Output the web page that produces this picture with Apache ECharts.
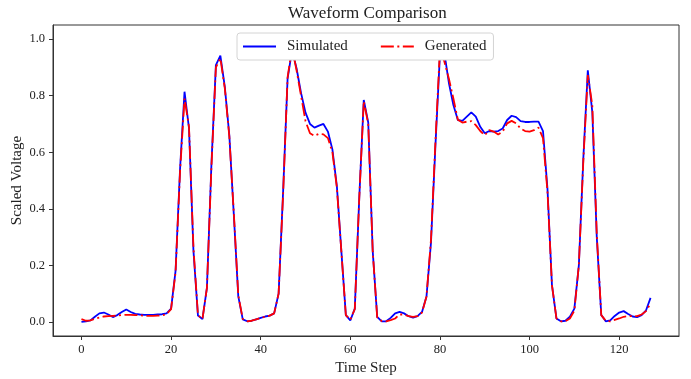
<!DOCTYPE html>
<html>
<head>
<meta charset="utf-8">
<script src="https://cdn.jsdelivr.net/npm/echarts@6/dist/echarts.min.js"></script>
<style>
  html, body { margin: 0; padding: 0; background: #fff; }
  #chart { width: 691px; height: 379px; }
</style>
</head>
<body>
<div id="chart"></div>
<script>
// values
const simulated = [
  0.000, 0.002, 0.005, 0.018, 0.030, 0.033, 0.026, 0.017, 0.024, 0.035,
  0.044, 0.035, 0.028, 0.026, 0.025, 0.025, 0.025, 0.026, 0.027, 0.030,
  0.047, 0.180, 0.540, 0.814, 0.684, 0.250, 0.022, 0.010, 0.120, 0.555,
  0.908, 0.942, 0.830, 0.660, 0.380, 0.090, 0.009, 0.002, 0.004, 0.009,
  0.014, 0.019, 0.022, 0.030, 0.100, 0.460, 0.860, 0.960, 0.897, 0.810,
  0.740, 0.700, 0.687, 0.694, 0.700, 0.673, 0.610, 0.480, 0.250, 0.024,
  0.005, 0.047, 0.440, 0.785, 0.705, 0.250, 0.018, 0.002, 0.002, 0.014,
  0.030, 0.035, 0.030, 0.020, 0.015, 0.020, 0.035, 0.090, 0.280, 0.625,
  0.945, 0.950, 0.845, 0.767, 0.714, 0.711, 0.726, 0.741, 0.726, 0.690,
  0.667, 0.675, 0.673, 0.675, 0.684, 0.714, 0.729, 0.724, 0.710, 0.707,
  0.707, 0.708, 0.708, 0.675, 0.470, 0.130, 0.012, 0.002, 0.004, 0.018,
  0.047, 0.200, 0.578, 0.890, 0.743, 0.300, 0.024, 0.002, 0.005, 0.021,
  0.033, 0.038, 0.028, 0.019, 0.017, 0.024, 0.041, 0.085
];
const generated = [
  0.010, 0.004, 0.005, 0.011, 0.015, 0.019, 0.020, 0.021, 0.022, 0.024,
  0.025, 0.025, 0.024, 0.023, 0.022, 0.021, 0.021, 0.022, 0.023, 0.027,
  0.045, 0.175, 0.530, 0.790, 0.690, 0.260, 0.024, 0.010, 0.120, 0.545,
  0.900, 0.932, 0.825, 0.655, 0.385, 0.094, 0.010, 0.002, 0.004, 0.009,
  0.014, 0.018, 0.022, 0.030, 0.100, 0.450, 0.865, 0.970, 0.890, 0.800,
  0.710, 0.667, 0.658, 0.665, 0.663, 0.650, 0.600, 0.475, 0.250, 0.024,
  0.008, 0.045, 0.440, 0.780, 0.700, 0.250, 0.016, 0.003, 0.002, 0.006,
  0.012, 0.026, 0.026, 0.020, 0.018, 0.020, 0.033, 0.090, 0.290, 0.640,
  0.965, 0.920, 0.860, 0.790, 0.715, 0.705, 0.708, 0.710, 0.696, 0.675,
  0.660, 0.678, 0.673, 0.663, 0.673, 0.702, 0.711, 0.702, 0.684, 0.675,
  0.673, 0.678, 0.687, 0.650, 0.460, 0.130, 0.012, 0.002, 0.002, 0.012,
  0.040, 0.200, 0.570, 0.873, 0.767, 0.310, 0.024, 0.004, 0.002, 0.007,
  0.012, 0.018, 0.020, 0.021, 0.020, 0.026, 0.038, 0.065
];
const timeSteps = simulated.map((_, i) => i);
const xTicks = [0, 20, 40, 60, 80, 100, 120];
const yTicks = [0.0, 0.2, 0.4, 0.6, 0.8, 1.0];

const FONT = "'Liberation Serif', 'DejaVu Serif', serif";
const INK = '#222';
const DASH_DOT = [13, 3.5, 2, 3.5];

const chart = echarts.init(document.getElementById('chart'), null, { renderer: 'canvas' });

chart.setOption({
  animation: false,
  textStyle: { fontFamily: FONT, color: INK },
  title: {
    text: 'Waveform Comparison',
    left: 288,
    top: 5,
    padding: 0,
    textStyle: { fontFamily: FONT, fontSize: 17, fontWeight: 'normal', color: INK },
  },
  legend: {
    left: 237,
    top: 33,
    padding: [6, 7, 6, 5],
    itemGap: 32,
    itemWidth: 33,
    itemHeight: 14,
    backgroundColor: '#fff',
    borderColor: '#d4d4d4',
    borderWidth: 1,
    borderRadius: 3,
    itemStyle: { opacity: 0 },
    textStyle: { fontFamily: FONT, fontSize: 15, color: INK, padding: [0, 0, 0, 6] },
    data: [
      { name: 'Simulated' },
      { name: 'Generated', lineStyle: { type: DASH_DOT } },
    ],
  },
  grid: {
    left: 53,
    top: 25,
    right: 12,
    bottom: 43,
    outerBoundsMode: 'none',
    containLabel: false,
    show: true,
    borderColor: '#333',
    borderWidth: 1,
    backgroundColor: 'transparent',
  },
  xAxis: {
    type: 'value',
    min: -6.35,
    max: 133.35,
    name: 'Time Step',
    nameLocation: 'middle',
    nameGap: 25,
    nameMoveOverlap: false,
    nameTextStyle: { fontFamily: FONT, fontSize: 15, color: INK },
    axisLine: { show: true, onZero: false, lineStyle: { color: '#333', width: 1 } },
    axisTick: { show: true, length: 4, customValues: xTicks, lineStyle: { color: '#333' } },
    axisLabel: {
      customValues: xTicks,
      margin: 7,
      fontFamily: FONT,
      fontSize: 12.5,
      color: INK,
    },
    splitLine: { show: false },
  },
  yAxis: {
    type: 'value',
    min: -0.05,
    max: 1.05,
    name: 'Scaled Voltage',
    nameLocation: 'middle',
    nameGap: 28,
    nameMoveOverlap: false,
    nameTextStyle: { fontFamily: FONT, fontSize: 15, color: INK },
    axisLine: { show: true, onZero: false, lineStyle: { color: '#333', width: 1 } },
    axisTick: { show: true, length: 4, customValues: yTicks, lineStyle: { color: '#333' } },
    axisLabel: {
      customValues: yTicks,
      margin: 8,
      fontFamily: FONT,
      fontSize: 12.5,
      color: INK,
      formatter: (v) => v.toFixed(1),
    },
    splitLine: { show: false },
  },
  series: [
    {
      name: 'Simulated',
      type: 'line',
      data: timeSteps.map((t, i) => [t, simulated[i]]),
      showSymbol: false,
      symbol: 'none',
      color: '#0000ff',
      lineStyle: { color: '#0000ff', width: 1.8 },
      z: 2,
    },
    {
      name: 'Generated',
      type: 'line',
      data: timeSteps.map((t, i) => [t, generated[i]]),
      showSymbol: false,
      symbol: 'none',
      color: '#ff0000',
      lineStyle: { color: '#ff0000', width: 1.8, type: DASH_DOT },
      z: 3,
    },
  ],
});
</script>
</body>
</html>
